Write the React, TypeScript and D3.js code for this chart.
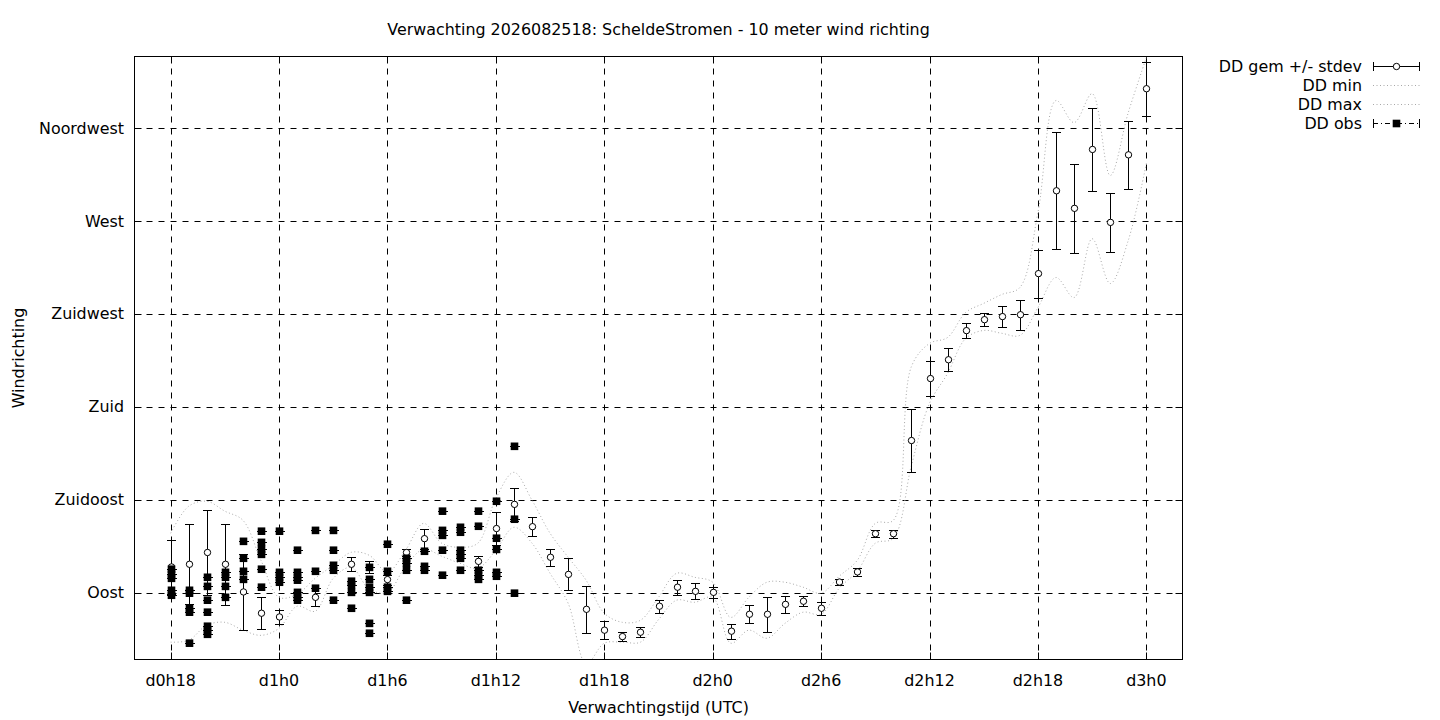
import React from "react";
import * as d3 from "d3";

// ---- data ----
const titleText = "Verwachting 2026082518: ScheldeStromen - 10 meter wind richting";
const xAxisTitle = "Verwachtingstijd (UTC)";
const yAxisTitle = "Windrichting";

const xTickHours = [18, 24, 30, 36, 42, 48, 54, 60, 66, 72];
const xTickLabels = ["d0h18", "d1h0", "d1h6", "d1h12", "d1h18", "d2h0", "d2h6", "d2h12", "d2h18", "d3h0"];
const yTickValues = [90, 135, 180, 225, 270, 315];
const yTickLabels = ["Oost", "Zuidoost", "Zuid", "Zuidwest", "West", "Noordwest"];

// forecast mean +/- stdev (degrees)
const fcHours = [18, 19, 20, 21, 22, 23, 24, 26, 28, 29, 30, 31, 32, 35, 36, 37, 38, 39, 40, 41, 42, 43, 44, 45, 46, 47, 48, 49, 50, 51, 52, 53, 54, 55, 56, 57, 58, 59, 60, 61, 62, 63, 64, 65, 66, 67, 68, 69, 70, 71, 72];
const fcMean = [102.4, 103.7, 109.4, 103.7, 90.3, 80.0, 78.2, 87.7, 103.7, 102.2, 96.3, 109.4, 116.1, 105.1, 121.0, 132.7, 121.9, 107.1, 98.8, 81.9, 71.8, 68.7, 70.8, 83.4, 92.6, 90.6, 90.1, 71.3, 79.5, 79.5, 84.3, 85.8, 82.4, 95.1, 100.0, 118.5, 118.5, 163.6, 193.6, 202.7, 216.8, 222.1, 223.6, 224.5, 244.4, 284.5, 276.0, 304.5, 269.2, 301.9, 333.9];
const fcStdev = [12.9, 19.4, 20.8, 19.7, 18.5, 7.7, 3.4, 4.4, 3.4, 2.9, 2.4, 1.5, 4.8, 2.6, 8.2, 8.1, 4.5, 4.1, 7.7, 11.4, 4.4, 2.2, 2.4, 3.2, 3.6, 3.9, 2.8, 3.6, 4.3, 8.4, 4.2, 2.3, 3.1, 1.5, 1.8, 1.8, 1.9, 15.2, 8.5, 5.5, 3.8, 3.0, 5.2, 7.3, 11.6, 28.4, 21.4, 20.1, 14.2, 16.5, 13.1];

// forecast min / max (degrees)
const mmHours = [18, 19, 20, 21, 22, 23, 24, 25, 26, 27, 28, 29, 30, 31, 32, 33, 34, 35, 36, 37, 38, 39, 40, 41, 42, 43, 44, 45, 46, 47, 48, 49, 50, 51, 52, 53, 54, 55, 56, 57, 58, 59, 60, 61, 62, 63, 64, 65, 66, 67, 68, 69, 70, 71, 72];
const ddMin = [66.0, 66.9, 74.2, 75.6, 71.8, 69.3, 72.7, 83.4, 81.0, 96.9, 102.2, 91.6, 90.1, 102.7, 111.0, 107.6, 104.2, 101.8, 110.5, 121.6, 113.9, 99.3, 84.8, 55.5, 65.5, 66.0, 66.0, 76.9, 86.3, 85.3, 87.7, 65.5, 71.8, 67.9, 75.1, 80.5, 79.5, 92.1, 100.3, 113.9, 116.3, 151.6, 181.6, 196.1, 213.0, 216.9, 215.5, 214.5, 228.0, 242.5, 232.8, 261.3, 239.6, 260.5, 297.8];
const ddMax = [118.7, 131.8, 134.2, 129.4, 125.0, 105.6, 87.7, 89.2, 96.9, 103.2, 109.5, 108.0, 99.8, 110.5, 123.5, 113.9, 111.9, 113.9, 135.6, 148.2, 134.7, 118.7, 107.1, 95.9, 80.0, 75.6, 76.6, 87.7, 99.3, 97.4, 95.0, 78.0, 87.7, 95.0, 95.0, 92.6, 89.7, 97.9, 105.6, 123.5, 125.0, 199.5, 210.6, 213.5, 225.6, 230.0, 234.3, 237.7, 274.0, 328.2, 317.5, 331.5, 291.9, 322.4, 349.0];

// observations (degrees), several stations per hour
const obsHours = [18, 19, 20, 21, 22, 23, 24, 25, 26, 27, 28, 29, 30, 31, 32, 33, 34, 35, 36, 37];
const obsValues = [
  [101.3, 98.9, 96.9, 91.1, 88.7],
  [91.1, 89.7, 82.4, 80.5, 65.5],
  [97.4, 93.0, 86.3, 80.5, 73.7, 71.8, 69.8],
  [99.8, 97.4, 93.0, 87.7],
  [114.8, 106.6, 100.3, 96.4],
  [119.7, 114.3, 110.9, 108.5, 101.3, 92.6],
  [119.7, 99.8, 97.4, 95.0],
  [110.5, 99.8, 97.4, 96.0, 90.1, 87.7, 86.3],
  [120.1, 100.3, 92.1],
  [120.1, 110.5, 103.2, 100.8, 86.3],
  [95.5, 93.5, 90.1, 82.4],
  [102.2, 96.4, 92.6, 90.1, 75.1, 70.3],
  [113.4, 100.3, 92.6, 90.6],
  [106.6, 104.2, 100.8, 86.3],
  [110.0, 102.7, 100.8],
  [129.4, 120.1, 117.7, 110.5, 98.4],
  [121.6, 119.2, 110.5, 108.5, 106.6, 100.8],
  [129.4, 122.1, 100.8, 98.4, 96.4],
  [134.2, 116.3, 110.9, 99.8, 97.9],
  [160.8, 125.5, 89.7],
];

const legendLabels = ["DD gem +/- stdev", "DD min", "DD max", "DD obs"];

// ---- chart ----
const W = 1440;
const H = 720;
const FONT = "'DejaVu Sans', Verdana, sans-serif";
const FS = 15.9;
const BASE = 5.8;

export default function App() {
  const x = d3.scaleLinear().domain([16, 74]).range([134.5, 1182.5]);
  const y = d3.scaleLinear().domain([57.6, 349.5]).range([659.5, 56.5]);
  const [x0, x1] = x.range();
  const [y0, y1] = y.range();
  const px = (v: number) => Math.round(v) + 0.5;

  const mmLine = d3
    .line<number>()
    .x((_, i) => x(mmHours[i]))
    .y((d) => y(d))
    .curve(d3.curveCatmullRom.alpha(0.5));

  const fc = fcHours.map((h, i) => ({ h, m: fcMean[i], s: fcStdev[i] }));
  const obs = obsHours.flatMap((h, i) => obsValues[i].map((v) => ({ h, v })));

  const tick = 7;
  const legendX0 = 1373;
  const legendX1 = 1420;
  const legendY = (i: number) => 66 + i * 19;

  return (
    <svg
      width={W}
      height={H}
      style={{ position: "fixed", left: 0, top: 0, background: "#fff" }}
      fontFamily={FONT}
      fontSize={FS}
    >
      <defs>
        <clipPath id="plotclip">
          <rect x={x0} y={y1} width={x1 - x0} height={y0 - y1} />
        </clipPath>
      </defs>
      <rect x={0} y={0} width={W} height={H} fill="#fff" />

      {/* grid */}
      <g stroke="#000" strokeWidth={1} strokeDasharray="6,6" fill="none">
        {xTickHours.map((h) => (
          <line key={"gx" + h} x1={px(x(h))} x2={px(x(h))} y1={y1} y2={y0} />
        ))}
        {yTickValues.map((v) => (
          <line key={"gy" + v} x1={x0} x2={x1} y1={px(y(v))} y2={px(y(v))} />
        ))}
      </g>

      {/* ticks (inward, mirrored) */}
      <g stroke="#000" strokeWidth={1}>
        {xTickHours.map((h) => (
          <g key={"tx" + h}>
            <line x1={px(x(h))} x2={px(x(h))} y1={y0} y2={y0 - tick} />
            <line x1={px(x(h))} x2={px(x(h))} y1={y1} y2={y1 + tick} />
          </g>
        ))}
        {yTickValues.map((v) => (
          <g key={"ty" + v}>
            <line x1={x0} x2={x0 + tick} y1={px(y(v))} y2={px(y(v))} />
            <line x1={x1} x2={x1 - tick} y1={px(y(v))} y2={px(y(v))} />
          </g>
        ))}
      </g>

      {/* min / max dotted */}
      <g clipPath="url(#plotclip)" fill="none" stroke="#a8a8a8" strokeWidth={1} strokeDasharray="1,2.5">
        <path d={mmLine(ddMin) || ""} />
        <path d={mmLine(ddMax) || ""} />
      </g>

      {/* forecast mean +/- stdev */}
      <g clipPath="url(#plotclip)">
        {fc.map((d) => {
          const cx = px(x(d.h));
          const yt = px(y(d.m + d.s));
          const yb = px(y(d.m - d.s));
          return (
            <g key={"fc" + d.h} stroke="#000" strokeWidth={1}>
              <line x1={cx} x2={cx} y1={yt} y2={yb} />
              <line x1={cx - 4.5} x2={cx + 4.5} y1={yt} y2={yt} />
              <line x1={cx - 4.5} x2={cx + 4.5} y1={yb} y2={yb} />
              <circle cx={cx} cy={y(d.m)} r={3.2} fill="#fff" />
            </g>
          );
        })}
      </g>

      {/* observations */}
      <g clipPath="url(#plotclip)">
        {obs.map((d, i) => {
          const cx = px(x(d.h));
          const cy = y(d.v);
          return (
            <g key={"ob" + i}>
              <line x1={cx - 4.5} x2={cx + 5.5} y1={px(cy)} y2={px(cy)} stroke="#000" strokeWidth={1} />
              <rect x={cx - 3.8} y={cy - 3.8} width={7.6} height={7.6} fill="#000" />
            </g>
          );
        })}
      </g>

      {/* border */}
      <rect x={x0} y={y1} width={x1 - x0} height={y0 - y1} fill="none" stroke="#000" strokeWidth={1} />

      {/* tick labels */}
      <g fill="#000">
        {xTickHours.map((h, i) => (
          <text key={"lx" + h} x={x(h)} y={685.5} textAnchor="middle">
            {xTickLabels[i]}
          </text>
        ))}
        {yTickValues.map((v, i) => (
          <text key={"ly" + v} x={124} y={y(v) + BASE} textAnchor="end">
            {yTickLabels[i]}
          </text>
        ))}
      </g>

      {/* titles */}
      <text x={(x0 + x1) / 2} y={34.5} textAnchor="middle">
        {titleText}
      </text>
      <text x={(x0 + x1) / 2} y={712.5} textAnchor="middle">
        {xAxisTitle}
      </text>
      <text transform={`translate(23.5,${(y0 + y1) / 2}) rotate(-90)`} textAnchor="middle">
        {yAxisTitle}
      </text>

      {/* legend */}
      <g>
        {legendLabels.map((l, i) => (
          <text key={"lg" + i} x={1362} y={legendY(i) + BASE} textAnchor="end">
            {l}
          </text>
        ))}
        <g stroke="#000" strokeWidth={1}>
          <line x1={legendX0} x2={legendX1} y1={px(legendY(0))} y2={px(legendY(0))} />
          <line x1={legendX0 + 0.5} x2={legendX0 + 0.5} y1={legendY(0) - 4} y2={legendY(0) + 5} />
          <line x1={legendX1 - 0.5} x2={legendX1 - 0.5} y1={legendY(0) - 4} y2={legendY(0) + 5} />
          <circle cx={(legendX0 + legendX1) / 2} cy={px(legendY(0))} r={3.2} fill="#fff" />
        </g>
        <g stroke="#a8a8a8" strokeWidth={1} strokeDasharray="1,2.5">
          <line x1={legendX0} x2={legendX1} y1={px(legendY(1))} y2={px(legendY(1))} />
          <line x1={legendX0} x2={legendX1} y1={px(legendY(2))} y2={px(legendY(2))} />
        </g>
        <g stroke="#000" strokeWidth={1}>
          <line x1={legendX0} x2={legendX1} y1={px(legendY(3))} y2={px(legendY(3))} strokeDasharray="5,3,1,3" />
          <line x1={legendX0 + 0.5} x2={legendX0 + 0.5} y1={legendY(3) - 4} y2={legendY(3) + 5} />
          <line x1={legendX1 - 0.5} x2={legendX1 - 0.5} y1={legendY(3) - 4} y2={legendY(3) + 5} />
          <rect x={(legendX0 + legendX1) / 2 - 3.8} y={px(legendY(3)) - 3.8} width={7.6} height={7.6} fill="#000" stroke="none" />
        </g>
      </g>
    </svg>
  );
}
